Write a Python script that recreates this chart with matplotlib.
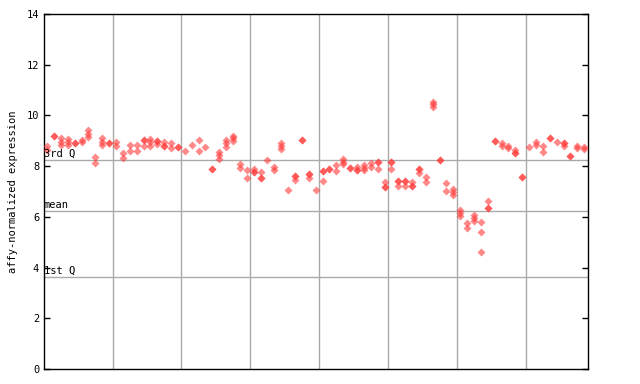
import matplotlib
matplotlib.use("Agg")
import matplotlib.pyplot as plt
import numpy as np

# expression values per sample (replicates)
values = [
    [8.79, 8.64], [9.2, 9.2], [9.1, 8.96, 8.84], [9.08, 8.95, 8.82], [8.92, 8.92],
    [9.02, 8.95], [9.42, 9.28, 9.16], [8.36, 8.12], [9.1, 8.97, 8.84], [8.93, 8.93],
    [8.96, 8.8], [8.5, 8.33], [8.85, 8.6], [8.85, 8.6], [9.02, 9.02, 8.8],
    [9.08, 8.94, 8.8], [8.98, 8.98, 8.88], [8.96, 8.8, 8.8], [8.9, 8.7], [8.77, 8.77],
    [8.58], [8.83], [9.03, 8.6], [8.74], [7.88, 7.88],
    [8.57, 8.43, 8.3], [9.03, 8.9, 8.77], [9.18, 9.1, 9.0], [8.07, 7.91], [7.85, 7.52],
    [7.88, 7.76, 7.76], [7.78, 7.54, 7.54], [8.24], [7.98, 7.85], [8.9, 8.78, 8.67],
    [7.06], [7.62, 7.62, 7.45], [9.03, 9.03], [7.7, 7.7, 7.54], [7.06],
    [7.82, 7.82, 7.41], [7.88, 7.88], [8.04, 7.82], [8.27, 8.16, 8.08], [7.94, 7.94],
    [7.98, 7.85, 7.85], [8.04, 7.92, 7.85], [8.13, 7.98], [8.17, 8.17, 7.87], [7.36, 7.16, 7.16],
    [8.17, 8.17, 7.87], [7.43, 7.43, 7.23], [7.43, 7.43, 7.23], [7.36, 7.23, 7.23], [7.9, 7.9, 7.72],
    [7.56, 7.36], [10.54, 10.44, 10.34], [8.23, 8.23], [7.32, 7.03], [7.08, 6.97, 6.86],
    [6.27, 6.16, 6.05], [5.77, 5.55], [6.07, 5.96, 5.85], [5.78, 5.39, 4.6], [6.62, 6.36, 6.36],
    [8.99, 8.99], [8.92, 8.79], [8.8, 8.7], [8.64, 8.53, 8.53], [7.58, 7.58],
    [8.77], [8.96, 8.83], [8.79, 8.57], [9.12, 9.12], [8.94],
    [8.9, 8.9, 8.8], [8.4, 8.4], [8.79, 8.7], [8.77, 8.66],
]
q3_value = 8.24
mean_value = 6.23
q1_value = 3.63
y_ticks = [0, 2, 4, 6, 8, 10, 12, 14]
group_size = 10

fig = plt.figure(figsize=(6.4, 3.84), dpi=100)
ax = fig.add_axes([44/640, 1 - 369/384, (588 - 44)/640, (369 - 14)/384])

n = len(values)
xs, ys = [], []
for i, vals in enumerate(values):
    for v in vals:
        xs.append(i)
        ys.append(v)
ax.plot(xs, ys, linestyle='none', marker='D', markersize=3.8,
        markerfacecolor='#ff3b3b', markeredgecolor='none', alpha=0.6, zorder=3)

grid_c = '#aaaaaa'
for g in np.arange(group_size - 0.5, n - 1, group_size):
    ax.axvline(g, color=grid_c, lw=1, zorder=1)
for yv in (q3_value, mean_value, q1_value):
    ax.axhline(yv, color=grid_c, lw=1, zorder=1)

mono = 'DejaVu Sans Mono'
ax.text(-0.45, q3_value + 0.05, '3rd Q', fontsize=7.5, family=mono, va='bottom', ha='left')
ax.text(-0.45, mean_value + 0.05, 'mean', fontsize=7.5, family=mono, va='bottom', ha='left')
ax.text(-0.45, q1_value + 0.05, '1st Q', fontsize=7.5, family=mono, va='bottom', ha='left')

ax.set_xlim(-0.45, n - 0.45)
ax.set_ylim(0, 14)
ax.set_yticks(y_ticks)
ax.set_yticklabels([str(t) for t in y_ticks], family=mono, fontsize=7.5)
ax.set_xticks([])
ax.tick_params(axis='y', direction='in', length=4, right=True, left=True, width=1)
for s in ax.spines.values():
    s.set_linewidth(1)
ax.set_ylabel('affy-normalized expression', family=mono, fontsize=7.5, labelpad=6)

fig.savefig('out.png', dpi=100)
